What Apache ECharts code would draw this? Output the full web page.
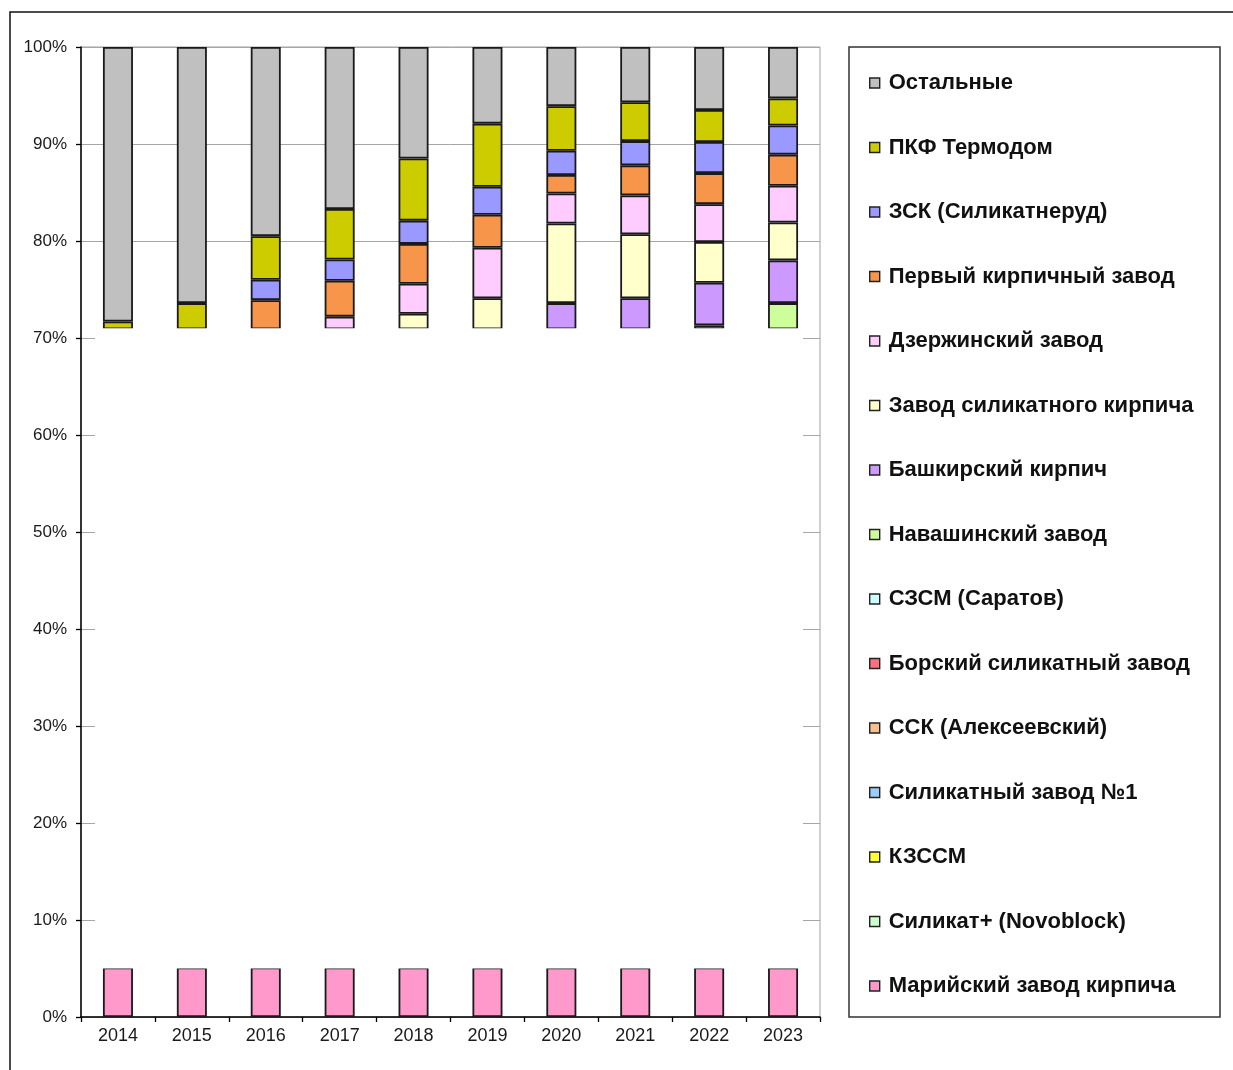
<!DOCTYPE html>
<html>
<head>
<meta charset="utf-8">
<script src="https://cdn.jsdelivr.net/npm/echarts@6/dist/echarts.min.js"></script>
<style>
html,body{margin:0;padding:0;background:#fff;}
#chart{width:1233px;height:1070px;}
</style>
</head>
<body>
<div id="chart"></div>
<script>
const years = ['2014','2015','2016','2017','2018','2019','2020','2021','2022','2023'];
const yTicks = [0,10,20,30,40,50,60,70,80,90,100];

// values in % (bottom of stack first)
const mariyskiy    = [5.1, 5.1, 5.1, 5.1, 5.1, 5.1, 5.1, 5.1, 5.1, 5.1];
const silikatPlus  = [11.2, 11.1, 11.0, 11.0, 10.9, 10.9, 11.0, 11.0, 11.0, 11.0];
const kzssm        = [11.2, 11.0, 11.1, 10.9, 10.8, 10.9, 11.0, 10.7, 10.9, 11.0];
const silZavod1    = [11.0, 10.9, 10.7, 11.0, 11.1, 11.0, 10.8, 11.2, 11.0, 10.9];
const ssk          = [10.8, 11.0, 11.2, 11.1, 10.9, 10.8, 11.1, 11.0, 10.9, 10.8];
const borskiy      = [11.4, 11.3, 11.0, 10.8, 10.9, 11.2, 11.0, 10.8, 10.7, 11.1];
const szsm         = [10.2, 10.5, 10.8, 11.0, 11.2, 11.0, 10.9, 11.1, 11.3, 11.0];
const navashinskiy = [0, 0, 0, 0, 0, 0, 0, 0, 0.4, 2.7];
const bashkirskiy  = [0, 0, 0, 0, 0, 0, 2.7, 3.2, 4.4, 4.4];
const zavodSilKirp = [0, 0, 0, 0, 1.6, 3.2, 8.2, 6.6, 4.2, 3.9];
const dzerzhinskiy = [0, 0, 0, 1.3, 3.1, 5.2, 3.1, 4.0, 3.9, 3.8];
const perviy       = [0, 0, 3.0, 3.7, 4.1, 3.4, 1.9, 3.1, 3.2, 3.2];
const zsk          = [0, 0, 2.1, 2.2, 2.4, 2.9, 2.5, 2.5, 3.2, 3.0];
const termodom     = [0.8, 2.7, 4.5, 5.2, 6.4, 6.5, 4.6, 4.0, 3.3, 2.8];
const ostalnye     = [28.3, 26.4, 19.5, 16.7, 11.5, 7.9, 6.1, 5.7, 6.5, 5.3];

const seriesDefs = [
  {name:'Марийский завод кирпича', data:mariyskiy, color:'#FF99CC', hidden:false},
  {name:'Силикат+ (Novoblock)', data:silikatPlus, color:'#CCFFCC', hidden:true},
  {name:'КЗССМ', data:kzssm, color:'#FFFF33', hidden:true},
  {name:'Силикатный завод №1', data:silZavod1, color:'#99CCFF', hidden:true},
  {name:'ССК (Алексеевский)', data:ssk, color:'#F7C08A', hidden:true},
  {name:'Борский силикатный завод', data:borskiy, color:'#FF6F7F', hidden:true},
  {name:'СЗСМ (Саратов)', data:szsm, color:'#CCFFFF', hidden:true},
  {name:'Навашинский завод', data:navashinskiy, color:'#CCFF99', hidden:false},
  {name:'Башкирский кирпич', data:bashkirskiy, color:'#CC99FF', hidden:false},
  {name:'Завод силикатного кирпича', data:zavodSilKirp, color:'#FFFFCC', hidden:false},
  {name:'Дзержинский завод', data:dzerzhinskiy, color:'#FFCCFF', hidden:false},
  {name:'Первый кирпичный завод', data:perviy, color:'#F7964A', hidden:false},
  {name:'ЗСК (Силикатнеруд)', data:zsk, color:'#9999FF', hidden:false},
  {name:'ПКФ Термодом', data:termodom, color:'#CCCC00', hidden:false},
  {name:'Остальные', data:ostalnye, color:'#C0C0C0', hidden:false}
];

// white band hiding the middle part of the stack
const hiddenSeries = seriesDefs.filter(s => s.hidden);
const coverLo = mariyskiy[0];
const coverHi = coverLo + hiddenSeries.reduce((a, s) => a + s.data[0], 0);

const series = seriesDefs.map(s => ({
  name: s.name,
  type: 'bar',
  stack: 'total',
  barWidth: 30,
  data: s.data.map(v => v === 0 ? '-' : v),
  itemStyle: s.hidden
    ? {color:'#ffffff', borderWidth:0}
    : {color:s.color, borderColor:'#1a1a1a', borderWidth:1.8},
  emphasis: {disabled:true}
}));

series.push({
  type: 'custom',
  name: 'cover',
  z: 5,
  silent: true,
  data: [[0, coverLo, coverHi]],
  encode: {x: 0, y: [1, 2]},
  renderItem: function (params, api) {
    const cs = params.coordSys;
    const yLo = api.coord([0, api.value(1)])[1];
    const yHi = api.coord([0, api.value(2)])[1];
    return {
      type: 'rect',
      shape: {x: cs.x + 14, y: yHi - 1, width: cs.width - 31, height: (yLo - yHi) + 2},
      style: {fill: '#ffffff'}
    };
  }
});

const legendData = seriesDefs.slice().reverse().map(s => ({
  name: s.name,
  itemStyle: {color: s.color, borderColor: '#222', borderWidth: 1.4}
}));

const chart = echarts.init(document.getElementById('chart'), null, {renderer:'canvas'});
chart.setOption({
  animation: false,
  backgroundColor: '#ffffff',
  tooltip: {show:false},
  grid: {left:81, right:413, top:47, bottom:53, show:true, borderColor:'#a0a0a0', borderWidth:1, backgroundColor:'transparent'},
  xAxis: {
    type: 'category',
    data: years,
    axisLine: {lineStyle:{color:'#000', width:1.5}},
    axisTick: {show:true, length:5, lineStyle:{color:'#000', width:1.3}},
    axisLabel: {color:'#1a1a1a', fontFamily:'Liberation Sans, Arial, sans-serif', fontSize:18, margin:10}
  },
  yAxis: {
    type: 'value',
    min: 0, max: 100, interval: 10,
    axisLine: {show:true, lineStyle:{color:'#000', width:1.5}},
    axisTick: {show:true, length:5, lineStyle:{color:'#000', width:1.3}},
    splitLine: {show:true, lineStyle:{color:'#a6a6a6', width:1}},
    axisLabel: {
      color:'#1a1a1a', fontFamily:'Liberation Sans, Arial, sans-serif', fontSize:17, margin:14,
      formatter: function (v) { return yTicks.indexOf(v) >= 0 ? v + '%' : ''; }
    }
  },
  legend: {
    orient: 'vertical',
    left: 864,
    top: 67,
    itemWidth: 10,
    itemHeight: 10,
    itemGap: 42.5,
    icon: 'rect',
    selectedMode: false,
    textStyle: {color:'#111', fontFamily:'Liberation Sans, Arial, sans-serif', fontWeight:'bold', fontSize:22, lineHeight:22, padding:[0,0,0,4]},
    data: legendData
  },
  graphic: [
    {type:'rect', z:0, silent:true, shape:{x:10, y:12, width:1240, height:1090}, style:{fill:'none', stroke:'#111', lineWidth:1.5}},
    {type:'rect', z:0, silent:true, shape:{x:849, y:47, width:371, height:970}, style:{fill:'none', stroke:'#333', lineWidth:1.5}}
  ],
  series: series
});
</script>
</body>
</html>
